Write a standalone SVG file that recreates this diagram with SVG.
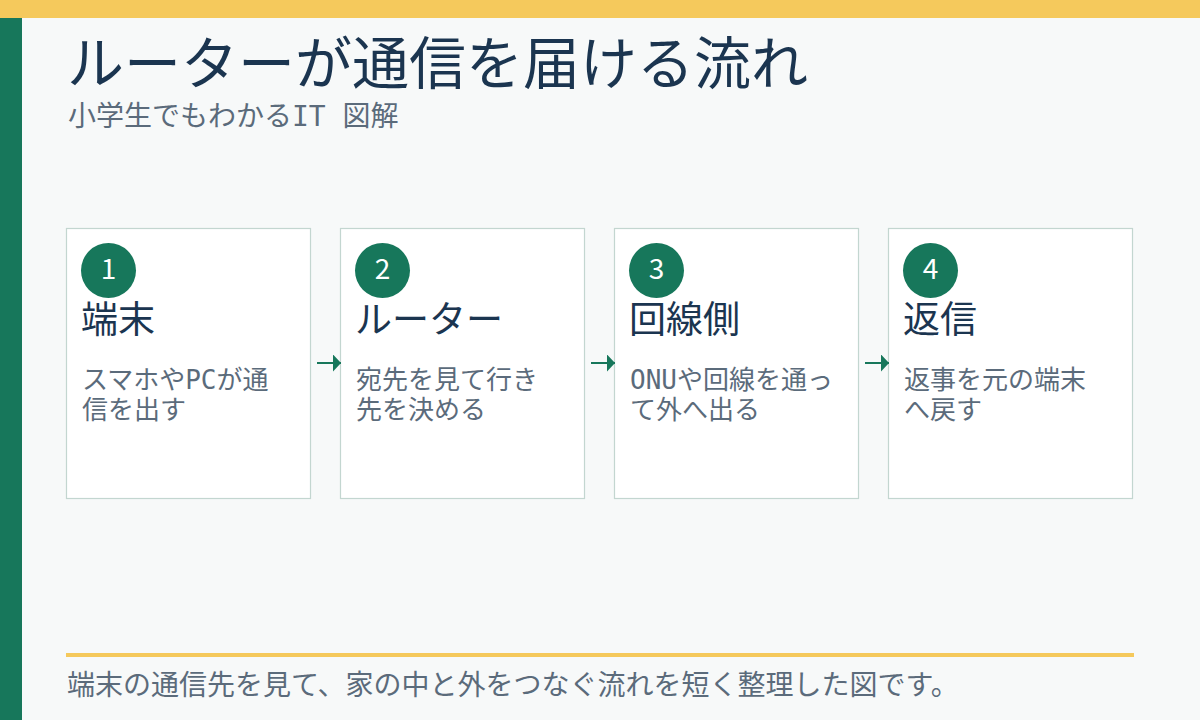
<svg xmlns="http://www.w3.org/2000/svg" width="1200" height="720" viewBox="0 0 1200 720">
<style>
text{font-family:"Noto Sans CJK JP","Noto Sans",sans-serif}
.title{font-size:57px;fill:#1B3550}
.sub{font-size:28px;fill:#5B6B7B;font-family:"DejaVu Sans Mono","Noto Sans CJK JP",monospace}
.card{fill:#FFFFFF;stroke:#C3D6D0;stroke-width:1.2}
.badge{fill:#17775B}
.num{font-size:28px;fill:#FFFFFF;text-anchor:middle}
.head{font-size:37px;fill:#1B3550}
.desc{font-size:26px;fill:#5B6B7B;font-family:"DejaVu Sans Mono","Noto Sans CJK JP",monospace}
.conn{stroke:#17775B;stroke-width:2;fill:none}
.foot{font-size:28px;fill:#5B6B7B}
</style>
<defs>
<marker id="ah" viewBox="0 0 10 10" refX="10" refY="5" markerWidth="8" markerHeight="17" markerUnits="userSpaceOnUse" orient="auto" preserveAspectRatio="none">
<path d="M0,0 L10,5 L0,10 z" fill="#17775B"/>
</marker>
</defs>
<rect x="0" y="0" width="1200" height="720" fill="#F7F9F9"/>
<rect x="0" y="0" width="1200" height="18" fill="#F5C95C"/>
<rect x="0" y="18" width="22" height="702" fill="#17775B"/>
<text class="title" x="67" y="84">ルーターが通信を届ける流れ</text>
<text class="sub" x="68" y="126">小学生でもわかるIT 図解</text>

<g id="node1">
<rect class="card" x="66.5" y="228.5" width="244" height="270"/>
<circle class="badge" cx="108.5" cy="270.5" r="27.5"/>
<text class="num" x="108.5" y="279">1</text>
<text class="head" x="81" y="333">端末</text>
<text class="desc" x="82" y="389">スマホやPCが通</text>
<text class="desc" x="82" y="419">信を出す</text>
</g>
<g id="node2">
<rect class="card" x="340.5" y="228.5" width="244" height="270"/>
<circle class="badge" cx="382.5" cy="270.5" r="27.5"/>
<text class="num" x="382.5" y="279">2</text>
<text class="head" x="355" y="333">ルーター</text>
<text class="desc" x="356" y="389">宛先を見て行き</text>
<text class="desc" x="356" y="419">先を決める</text>
</g>
<g id="node3">
<rect class="card" x="614.5" y="228.5" width="244" height="270"/>
<circle class="badge" cx="656.5" cy="270.5" r="27.5"/>
<text class="num" x="656.5" y="279">3</text>
<text class="head" x="629" y="333">回線側</text>
<text class="desc" x="630" y="389">ONUや回線を通っ</text>
<text class="desc" x="630" y="419">て外へ出る</text>
</g>
<g id="node4">
<rect class="card" x="888.5" y="228.5" width="244" height="270"/>
<circle class="badge" cx="930.5" cy="270.5" r="27.5"/>
<text class="num" x="930.5" y="279">4</text>
<text class="head" x="903" y="333">返信</text>
<text class="desc" x="904" y="389">返事を元の端末</text>
<text class="desc" x="904" y="419">へ戻す</text>
</g>

<g id="connectors">
<line class="conn" x1="317" y1="363" x2="341" y2="363" marker-end="url(#ah)"/>
<line class="conn" x1="591" y1="363" x2="615" y2="363" marker-end="url(#ah)"/>
<line class="conn" x1="865" y1="363" x2="889" y2="363" marker-end="url(#ah)"/>
</g>

<rect x="66" y="653" width="1068" height="4" fill="#F5C95C"/>
<text class="foot" x="67" y="695">端末の通信先を見て、家の中と外をつなぐ流れを短く整理した図です。</text>
</svg>
